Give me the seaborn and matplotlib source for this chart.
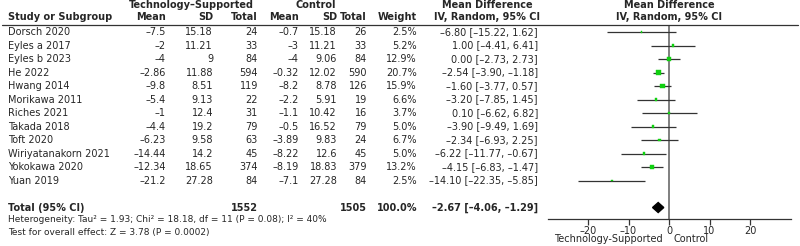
import matplotlib
matplotlib.use("Agg")
import matplotlib.pyplot as plt
import matplotlib.transforms as mtransforms
import pandas as pd
import seaborn as sns

studies = ["Dorsch 2020", "Eyles a 2017", "Eyles b 2023", "He 2022", "Hwang 2014",
           "Morikawa 2011", "Riches 2021", "Takada 2018", "Toft 2020",
           "Wiriyatanakorn 2021", "Yokokawa 2020", "Yuan 2019"]
tech_mean = [-7.5, -2, -4, -2.86, -9.8, -5.4, -1, -4.4, -6.23, -14.44, -12.34, -21.2]
tech_sd = [15.18, 11.21, 9, 11.88, 8.51, 9.13, 12.4, 19.2, 9.58, 14.2, 18.65, 27.28]
tech_n = [24, 33, 84, 594, 119, 22, 31, 79, 63, 45, 374, 84]
ctrl_mean = [-0.7, -3, -4, -0.32, -8.2, -2.2, -1.1, -0.5, -3.89, -8.22, -8.19, -7.1]
ctrl_sd = [15.18, 11.21, 9.06, 12.02, 8.78, 5.91, 10.42, 16.52, 9.83, 12.6, 18.83, 27.28]
ctrl_n = [26, 33, 84, 590, 126, 19, 16, 79, 24, 45, 379, 84]
weight = [2.5, 5.2, 12.9, 20.7, 15.9, 6.6, 3.7, 5.0, 6.7, 5.0, 13.2, 2.5]
md = [-6.80, 1.00, 0.00, -2.54, -1.60, -3.20, 0.10, -3.90, -2.34, -6.22, -4.15, -14.10]
ci_lo = [-15.22, -4.41, -2.73, -3.90, -3.77, -7.85, -6.62, -9.49, -6.93, -11.77, -6.83, -22.35]
ci_hi = [1.62, 6.41, 2.73, -1.18, 0.57, 1.45, 6.82, 1.69, 2.25, -0.67, -1.47, -5.85]

total_tech_n = 1552
total_ctrl_n = 1505
total_md, total_lo, total_hi = -2.67, -4.06, -1.29
heterogeneity = "Heterogeneity: Tau\u00b2 = 1.93; Chi\u00b2 = 18.18, df = 11 (P = 0.08); I\u00b2 = 40%"
overall = "Test for overall effect: Z = 3.78 (P = 0.0002)"
xticks = [-20, -10, 0, 10, 20]

sns.set_theme(style="white")
plt.rcParams["font.family"] = ["DejaVu Sans"]
plt.rcParams["axes.unicode_minus"] = True

W, H = 800, 246
FS = 7
MINUS = "\u2013"


def num(v):
    return f"{v:g}".replace("-", MINUS)


def ci(m, lo, hi):
    return f"{m:.2f} [{lo:.2f}, {hi:.2f}]".replace("-", MINUS)


df = pd.DataFrame({"study": studies, "md": md, "lo": ci_lo, "hi": ci_hi,
                   "weight": weight})
df["row"] = range(len(df))
total_row = len(df) + 1

fig = plt.figure(figsize=(W / 100, H / 100), dpi=100)
ax_top, ax_bot = 25, 219
ax = fig.add_axes([547.5 / W, 1 - ax_bot / H, 243 / W, (ax_bot - ax_top) / H])
ax.set_xlim(-30, 30)
ax.set_ylim(13.85, -0.52)

# forest marks
ax.axvline(0, color="#7f7f7f", lw=1.4, zorder=1)
ax.hlines(df["row"], df["lo"], df["hi"], color="#333333", lw=0.9, zorder=2)
k = 0.55
sns.scatterplot(data=df, x="md", y="row", size="weight", marker="s",
                sizes=(min(weight) * k, max(weight) * k),
                size_norm=(min(weight), max(weight)),
                color="#10d010", edgecolor="#10d010", linewidth=0.3,
                legend=False, ax=ax, zorder=3)
ax.fill([total_lo, total_md, total_hi, total_md],
        [total_row, total_row - 0.37, total_row, total_row + 0.37],
        color="black", zorder=4)

ax.set_xticks(xticks)
ax.set_xticklabels([num(t) for t in xticks])
ax.set_yticks([])
ax.set_xlabel("")
ax.set_ylabel("")
for s in ["left", "top", "right"]:
    ax.spines[s].set_visible(False)
ax.spines["bottom"].set_color("#333333")
ax.spines["bottom"].set_linewidth(0.9)
ax.tick_params(axis="x", direction="out", length=4, width=0.9, color="#333333",
               labelsize=FS, pad=1, bottom=True)
lab_tr = mtransforms.blended_transform_factory(ax.transData, ax.transAxes)
ax.text(-1.6, -0.105, "Technology-Supported", transform=lab_tr, ha="right",
        va="center", fontsize=FS)
ax.text(1.2, -0.105, "Control", transform=lab_tr, ha="left", va="center",
        fontsize=FS)

# table
tr = mtransforms.blended_transform_factory(fig.transFigure, ax.transData)


def put(xpx, row, s, ha="right", bold=False, fs=FS):
    fig.text(xpx / W, row, s, transform=tr, ha=ha, va="center", fontsize=fs,
             fontweight="bold" if bold else "normal", clip_on=False)


cols = {"tm": 166, "tsd": 213, "tn": 258, "cm": 299, "csd": 337, "cn": 367,
        "w": 417, "ci": 538}
for i in range(len(studies)):
    put(8, i, studies[i], ha="left")
    put(cols["tm"], i, num(tech_mean[i]))
    put(cols["tsd"], i, num(tech_sd[i]))
    put(cols["tn"], i, str(tech_n[i]))
    put(cols["cm"], i, num(ctrl_mean[i]))
    put(cols["csd"], i, num(ctrl_sd[i]))
    put(cols["cn"], i, str(ctrl_n[i]))
    put(cols["w"], i, f"{weight[i]:.1f}%")
    put(cols["ci"], i, ci(md[i], ci_lo[i], ci_hi[i]))

put(8, total_row, "Total (95% CI)", ha="left", bold=True)
put(cols["tn"], total_row, str(total_tech_n), bold=True)
put(cols["cn"], total_row, str(total_ctrl_n), bold=True)
put(cols["w"], total_row, "100.0%", bold=True)
put(cols["ci"], total_row, ci(total_md, total_lo, total_hi), bold=True)

# headers
h1, h2 = -1.98, -1.1
put(191, h1, "Technology\u2013Supported", ha="center", bold=True)
put(316, h1, "Control", ha="center", bold=True)
put(487, h1, "Mean Difference", ha="center", bold=True)
put(669, h1, "Mean Difference", ha="center", bold=True)
put(8, h2, "Study or Subgroup", ha="left", bold=True)
put(cols["tm"], h2, "Mean", bold=True)
put(cols["tsd"], h2, "SD", bold=True)
put(cols["tn"], h2, "Total", bold=True)
put(cols["cm"], h2, "Mean", bold=True)
put(cols["csd"], h2, "SD", bold=True)
put(cols["cn"], h2, "Total", bold=True)
put(cols["w"], h2, "Weight", bold=True)
put(487, h2, "IV, Random, 95% CI", ha="center", bold=True)
put(669, h2, "IV, Random, 95% CI", ha="center", bold=True)

fig.add_artist(plt.Line2D([2 / W, 798 / W], [1 - 25 / H, 1 - 25 / H],
                          transform=fig.transFigure, color="#333333", lw=0.9))

fig.text(8 / W, 1 - 220 / H, heterogeneity, ha="left", va="center", fontsize=6.5)
fig.text(8 / W, 1 - 232 / H, overall, ha="left", va="center", fontsize=6.5)

fig.savefig("out.png", dpi=100)
